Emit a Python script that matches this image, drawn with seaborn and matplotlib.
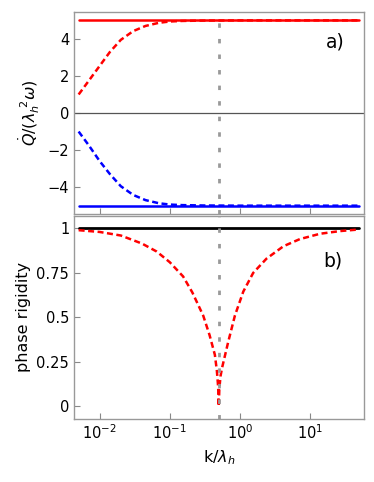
import numpy as np
import pandas as pd
import seaborn as sns
import matplotlib.pyplot as plt
from matplotlib.ticker import NullLocator

# heat current (panel a)
k_heat = [0.005, 0.007, 0.01, 0.014, 0.02, 0.03, 0.045, 0.07, 0.1, 0.15, 0.3, 1.0, 50.0]
q_dashed = [1.0, 1.75, 2.55, 3.3, 3.95, 4.42, 4.7, 4.87, 4.94, 4.97, 4.99, 5.0, 5.0]
q_dashed_neg = [-1.0, -1.75, -2.6, -3.3, -3.95, -4.42, -4.7, -4.87, -4.94, -4.97, -4.99, -5.0, -5.0]
k_flat = [0.005, 50.0]
q_flat = [5.0, 5.0]
q_flat_neg = [-5.0, -5.0]

# phase rigidity (panel b)
k_rig = [0.005, 0.01, 0.02, 0.04, 0.065, 0.1, 0.155, 0.21, 0.3, 0.37, 0.44, 0.47, 0.49, 0.5,
         0.51, 0.53, 0.56, 0.68, 0.85, 1.12, 1.55, 2.4, 4.2, 7.2, 14.0, 27.0, 47.0, 50.0]
rig = [0.99, 0.98, 0.96, 0.915, 0.87, 0.81, 0.73, 0.64, 0.51, 0.40, 0.29, 0.2, 0.11, 0.0,
       0.1, 0.17, 0.22, 0.36, 0.51, 0.645, 0.75, 0.83, 0.90, 0.94, 0.97, 0.985, 0.993, 0.994]
rig_flat = [1.0, 1.0]

k_ep = 0.5
xticks = [0.01, 0.1, 1, 10]
xticklabels = [r"$10^{-2}$", r"$10^{-1}$", r"$10^{0}$", r"$10^{1}$"]

sns.set_theme(style="ticks")
plt.rcParams["font.family"] = ["DejaVu Sans"]
plt.rcParams["mathtext.fontset"] = "dejavusans"
plt.rcParams["text.color"] = "black"
plt.rcParams["axes.labelcolor"] = "black"

fig = plt.figure(figsize=(3.74, 4.82), dpi=100)
ax1 = fig.add_axes([0.198, 0.556, 0.775, 0.419])
ax2 = fig.add_axes([0.198, 0.131, 0.775, 0.421])

red_dash = (0, (2.4, 1.4))
lw = 1.8

# panel a
sns.lineplot(x=k_flat, y=q_flat, ax=ax1, color="red", lw=lw)
sns.lineplot(x=k_flat, y=q_flat_neg, ax=ax1, color="blue", lw=lw)
sns.lineplot(x=k_heat, y=q_dashed, ax=ax1, color="red", lw=lw, linestyle=red_dash)
sns.lineplot(x=k_heat, y=q_dashed_neg, ax=ax1, color="blue", lw=lw, linestyle=red_dash)
ax1.axhline(0, color="#555555", lw=0.9, zorder=1)
ax1.set_ylim(-5.45, 5.45)
ax1.set_yticks([-4, -2, 0, 2, 4])
ax1.set_yticklabels(["\u22124", "\u22122", "0", "2", "4"])
ax1.set_ylabel(r"$\dot{Q}/(\lambda_h^{\ 2}\omega)$", fontsize=11.5, labelpad=4)
ax1.text(0.87, 0.85, "a)", transform=ax1.transAxes, fontsize=13.5, va="center")

# panel b
sns.lineplot(x=k_flat, y=rig_flat, ax=ax2, color="black", lw=2)
sns.lineplot(x=k_rig, y=rig, ax=ax2, color="red", lw=lw, linestyle=red_dash)
ax2.set_ylim(-0.07, 1.07)
ax2.set_yticks([0, 0.25, 0.5, 0.75, 1])
ax2.set_yticklabels(["0", "0.25", "0.5", "0.75", "1"])
ax2.set_ylabel("phase rigidity", fontsize=11.5, labelpad=4)
ax2.set_xlabel(r"k/$\lambda_h$", fontsize=11.5)
ax2.text(0.86, 0.78, "b)", transform=ax2.transAxes, fontsize=13.5, va="center")

for ax in (ax1, ax2):
    ax.set_xscale("log")
    ax.set_xlim(0.0043, 59)
    ax.axvline(k_ep, color="#999999", lw=2, linestyle=(0, (1.6, 4.0)), zorder=3)
    ax.set_xticks(xticks)
    ax.xaxis.set_minor_locator(NullLocator())
    ax.tick_params(direction="in", length=4, width=0.8, color="#888888", labelsize=10.5,
                   labelcolor="black", top=False, right=False)
    for s in ax.spines.values():
        s.set_visible(True)
        s.set_color("#999999")
        s.set_linewidth(1.0)

ax1.set_xticklabels([])
ax2.set_xticklabels(xticklabels)

fig.savefig("out.png", dpi=100)
